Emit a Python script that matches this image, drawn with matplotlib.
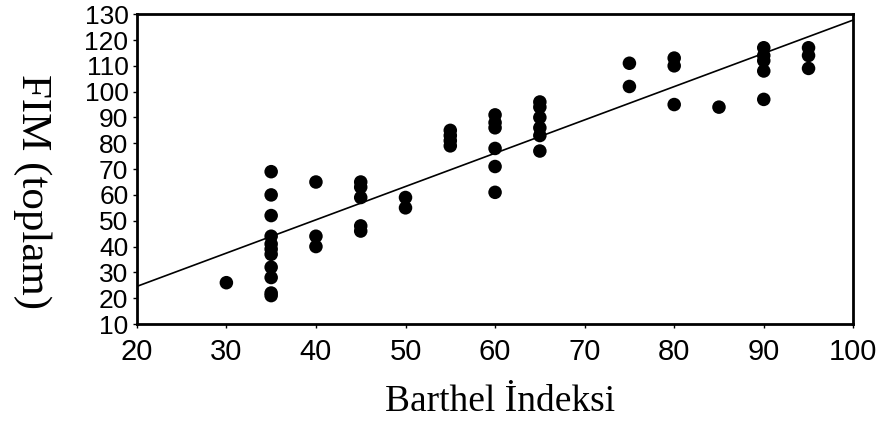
import numpy as np
import matplotlib
matplotlib.use("Agg")
import matplotlib.pyplot as plt

# Barthel indeksi (x) ve FIM toplam (y) degerleri
barthel = [30,
           35, 35, 35, 35, 35, 35, 35, 35, 35, 35, 35,
           40, 40, 40,
           45, 45, 45, 45, 45,
           50, 50,
           55, 55, 55, 55,
           60, 60, 60, 60, 60, 60,
           65, 65, 65, 65, 65, 65,
           75, 75,
           80, 80, 80,
           85,
           90, 90, 90, 90, 90,
           95, 95, 95]
fim = [26,
       69, 60, 52, 44, 41, 39, 37, 32, 28, 22, 21,
       65, 44, 40,
       65, 63, 59, 48, 46,
       59, 55,
       85, 83, 81, 79,
       91, 88, 86, 78, 71, 61,
       96, 94, 90, 86, 83, 77,
       111, 102,
       113, 110, 95,
       94,
       117, 114, 112, 108, 97,
       117, 114, 109]

x_ticks = [20, 30, 40, 50, 60, 70, 80, 90, 100]
y_ticks = [10, 20, 30, 40, 50, 60, 70, 80, 90, 100, 110, 120, 130]

# regresyon dogrusu
slope, intercept = np.polyfit(barthel, fim, 1)
line_x = np.array([20, 100])

fig = plt.figure(figsize=(8.77, 4.30), dpi=100)
ax = fig.add_axes([0.156, 0.2465, 0.817, 0.7205])

ax.scatter(barthel, fim, s=95, c="black", edgecolors="none", zorder=3)
ax.plot(line_x, slope * line_x + intercept, color="black", lw=1.2, zorder=2)

ax.set_xlim(20, 100)
ax.set_ylim(10, 130)
ax.set_xticks(x_ticks)
ax.set_yticks(y_ticks)
ax.tick_params(axis="both", direction="out", length=3, width=1,
               colors="black")
ax.tick_params(axis="x", pad=7, labelsize=21)
ax.tick_params(axis="y", pad=3, labelsize=19)
for lab in ax.get_xticklabels() + ax.get_yticklabels():
    lab.set_fontfamily("Liberation Sans")
for sp in ax.spines.values():
    sp.set_linewidth(2)
    sp.set_color("black")

fig.text(0.57, 0.065, "Barthel İndeksi", family="Liberation Serif",
         fontsize=27, ha="center", va="center")
fig.text(0.037, 0.555, "FIM (toplam)", family="Liberation Serif",
         fontsize=31, rotation=270, ha="center", va="center")

fig.savefig("out.png", dpi=100)
